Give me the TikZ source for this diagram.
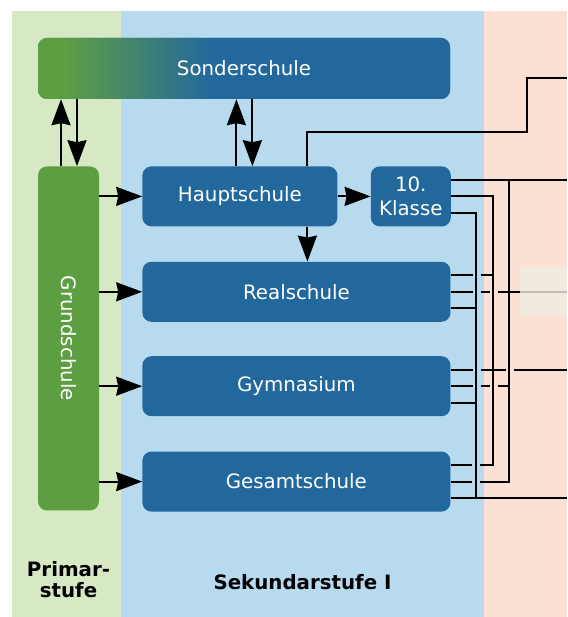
\documentclass[tikz,border=0pt]{standalone}
\usepackage{fontspec}
\setmainfont{DejaVu Sans}
\usetikzlibrary{positioning,arrows.meta,calc}

\definecolor{primarbg}{RGB}{214,232,196}
\definecolor{sekbg}{RGB}{183,218,238}
\definecolor{sekzweibg}{RGB}{250,225,212}
\definecolor{schulblau}{RGB}{35,104,157}
\definecolor{schulgruen}{RGB}{94,158,67}
\definecolor{feldhell}{RGB}{241,236,226}

\pgfdeclarehorizontalshading{sondershading}{100bp}{%
    color(0bp)=(schulgruen); color(28bp)=(schulgruen);
    color(46bp)=(schulblau); color(100bp)=(schulblau)}

\tikzset{
    % School type boxes
    schulform/.style={
        fill=schulblau,
        rounded corners=9pt,
        minimum height=60pt,
        inner sep=0pt,
        align=center,
        text=white,
        font=\fontsize{19.8}{23.8}\selectfont
    },
    % Green box of the primary level
    grundstufe/.style={
        schulform,
        fill=schulgruen,
        minimum width=61pt,
        minimum height=344pt
    },
    % Band labels
    stufenlabel/.style={
        font=\fontsize{19.8}{21}\selectfont\bfseries,
        align=center
    },
    % Arrows
    flusspfeil/.style={
        -{Stealth[length=26pt,width=19pt,inset=2pt]},
        line width=2pt,
        black
    },
    % Transition lines
    leitung/.style={
        line width=2pt,
        black
    }
}

\begin{document}
\begin{tikzpicture}[x=1pt,y=1pt]

\useasboundingbox (0,0) rectangle (567,-617);

% === BANDS ===
\fill[primarbg] (12,-11) rectangle (121,-617);
\fill[sekbg] (121,-11) rectangle (484,-617);
\fill[sekzweibg] (484,-11) rectangle (567,-617);

% === SCHOOLS ===
\node[schulform, shade, shading=sondershading, minimum width=412pt, minimum height=61pt] (sonder) at (244,-68.5) {Sonderschule};

\node[grundstufe, below=67pt of sonder.south west, anchor=north west] (grund) {\rotatebox{-90}{Grundschule}};

\node[schulform, right=43pt of grund.north east, anchor=north west, minimum width=195pt] (haupt) {Hauptschule};
\node[schulform, right=33pt of haupt, minimum width=80pt] (klasse) {10.\\Klasse};
\node[schulform, below=35pt of haupt.south west, anchor=north west, minimum width=308pt] (real) {Realschule};
\node[schulform, below=34pt of real, minimum width=308pt] (gym) {Gymnasium};
\node[schulform, below=35pt of gym, minimum width=308pt] (gesamt) {Gesamtschule};

% === ARROWS ===
\draw[flusspfeil] ([xshift=-7.5pt]grund.north) -- ([xshift=-7.5pt]grund.north |- sonder.south);
\draw[flusspfeil] ([xshift=8.5pt]grund.north |- sonder.south) -- ([xshift=8.5pt]grund.north);
\draw[flusspfeil] ([xshift=-3.5pt]haupt.north) -- ([xshift=-3.5pt]haupt.north |- sonder.south);
\draw[flusspfeil] ([xshift=12.5pt]haupt.north |- sonder.south) -- ([xshift=12.5pt]haupt.north);
\foreach \ziel in {haupt,real,gym,gesamt}
    \draw[flusspfeil] (grund.east |- \ziel.west) -- (\ziel.west);
\draw[flusspfeil] (haupt.east) -- (klasse.west);
\draw[flusspfeil] ([xshift=67.5pt]haupt.south) -- ([xshift=67.5pt]haupt.south |- real.north);

% === TRANSITIONS ===
\coordinate (busC) at (476,0);
\coordinate (busB) at (493,0);
\coordinate (busA) at (509,0);
\coordinate (rand) at (567,0);
\coordinate (knick) at (527,-78);

\draw[leitung] ([xshift=67.5pt]haupt.north) |- ([yshift=-54pt]knick) -- (knick) -- (knick -| rand);

% from 10. Klasse
\draw[leitung] ([yshift=16.5pt]klasse.east) -- ([yshift=16.5pt]klasse.east -| rand);
\draw[leitung] ([yshift=16.5pt]klasse.east -| busA) -- (gesamt.east -| busA) -- ++(-29pt,0) ++(-8pt,0) -- (gesamt.east);
\draw[leitung] (klasse.east) -| ([yshift=16.5pt]gesamt.east -| busB) -- ++(-13pt,0) ++(-8pt,0) -- ([yshift=16.5pt]gesamt.east);
\draw[leitung] ([yshift=-16.5pt]klasse.east) -| ([yshift=-16.5pt]gesamt.east -| busC);
\draw[leitung] ([yshift=-16.5pt]gesamt.east) -- ([yshift=-16.5pt]gesamt.east -| rand);

% from Realschule
\draw[leitung] ([yshift=16.5pt]real.east) -- ++(22pt,0) ++(8pt,0) -- ([yshift=16.5pt]real.east -| busB);
\draw[leitung] (real.east) -- ++(22pt,0) ++(8pt,0) -- ++(9pt,0) ++(8pt,0) -- (real.east -| rand);
\draw[leitung] ([yshift=-16.5pt]real.east) -- ([yshift=-16.5pt]real.east -| busC);

% from Gymnasium
\draw[leitung] ([yshift=16.5pt]gym.east) -- ++(22pt,0) ++(8pt,0) -- ++(25pt,0) ++(8pt,0) -- ([yshift=16.5pt]gym.east -| rand);
\draw[leitung] (gym.east) -- ++(22pt,0) ++(8pt,0) -- ++(9pt,0) ++(8pt,0) -- (gym.east -| busA);
\draw[leitung] ([yshift=-16.5pt]gym.east) -- ([yshift=-16.5pt]gym.east -| busC);

\fill[feldhell, fill opacity=0.8] (520,-267) rectangle (567,-315);

% === LABELS ===
\node[stufenlabel] (primar) at (68.5,-580) {Primar-\\stufe};
\node[stufenlabel, anchor=base] (sekeins) at (302.5,-589) {Sekundarstufe I};

\end{tikzpicture}
\end{document}
